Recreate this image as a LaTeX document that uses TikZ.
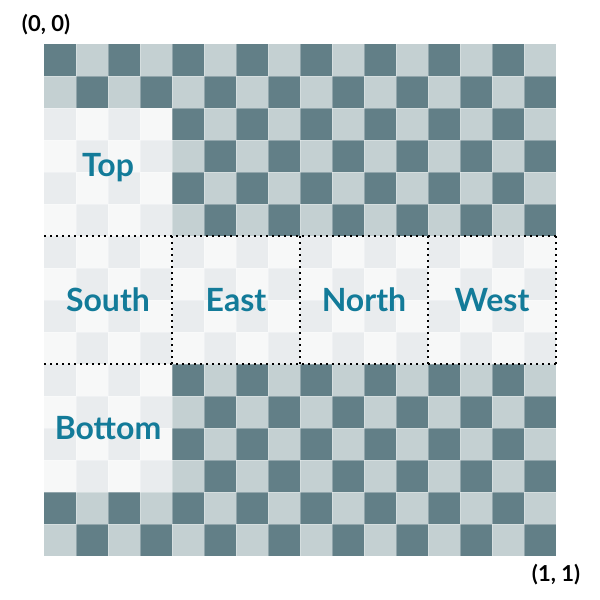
\documentclass[tikz,border=0pt]{standalone}
\usepackage{fontspec}
\setmainfont{Lato}
\usetikzlibrary{positioning}
\definecolor{tiledark}{HTML}{627F87}
\definecolor{tilelight}{HTML}{C4D0D2}
\definecolor{paledark}{HTML}{E9ECEE}
\definecolor{palelight}{HTML}{F7F8F8}
\definecolor{labelblue}{HTML}{137B99}
\tikzset{
    facelabel/.style = {font=\fontsize{32}{32}\selectfont\bfseries, text=labelblue, inner sep=0pt},
    cornerlabel/.style = {font=\fontsize{22}{22}\selectfont\bfseries, text=black, inner sep=0pt},
    edgedot/.style = {line width=2.2pt, dash pattern=on 2.2pt off 3.8pt, black}, % face borders
    seam/.style = {white, opacity=0.3, line width=0.8pt}
}

\begin{document}
\begin{tikzpicture}[x=1pt, y=-1pt]
    \useasboundingbox (0,0) rectangle (600,600);

    % checkerboard, pale where a face is unfolded
    \foreach \c in {0,...,15}{
      \foreach \r in {0,...,15}{
        \pgfmathtruncatemacro{\odd}{mod(\c+\r,2)}
        \pgfmathtruncatemacro{\pale}{((\c<4)&&(\r>1)&&(\r<14))||((\r>5)&&(\r<10))}
        \ifnum\pale=1
          \ifnum\odd=0 \def\tile{paledark}\else\def\tile{palelight}\fi
        \else
          \ifnum\odd=0 \def\tile{tiledark}\else\def\tile{tilelight}\fi
        \fi
        \fill[\tile] (44+32*\c, 44+32*\r) rectangle ++(32,32);
      }
    }
    \foreach \k in {1,...,15}{
      \draw[seam] (44+32*\k, 44) -- (44+32*\k, 556);
      \draw[seam] (44, 44+32*\k) -- (556, 44+32*\k);
    }

    % face borders
    \draw[edgedot] (44,236) -- (556,236);
    \draw[edgedot] (44,364) -- (556,364);
    \foreach \x in {172,300,428,556}
      \draw[edgedot] (\x,236) -- (\x,364);

    % face names
    \node[facelabel] (top)    at (108,168) {Top};
    \node[facelabel] (south)  at (108,300) {South};
    \node[facelabel] (east)   at (236,300) {East};
    \node[facelabel] (north)  at (364,300) {North};
    \node[facelabel] (west)   at (492,300) {West};
    \node[facelabel] (bottom) at (108,428) {Bottom};

    % uv corners
    \node[cornerlabel] (origin) at (46,25)  {(0, 0)};
    \node[cornerlabel] (far)    at (556,575) {(1, 1)};

\end{tikzpicture}
\end{document}
